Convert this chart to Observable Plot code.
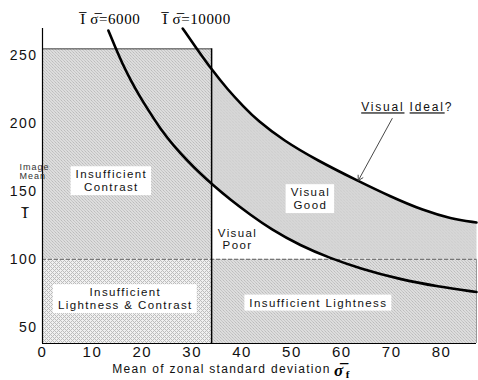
<!DOCTYPE html>
<html><head><meta charset="utf-8">
<script src="https://cdn.jsdelivr.net/npm/d3@7"></script>
<script src="https://cdn.jsdelivr.net/npm/@observablehq/plot@0.6"></script>
<style>
body{margin:0;background:#fff;}
#chart svg{display:block;overflow:visible;}
#chart svg g[aria-label$="tick label"] text{letter-spacing:1.5px;}
#chart svg g[aria-label="x-axis tick label"] text{font-size:15px;}
</style>
</head><body><div id="chart"></div>
<script>
// thresholds
const sigmaContrast = 33.9;   // σ below which contrast is insufficient
const lightnessMin = 100;     // Ī below which lightness is insufficient
const lightnessMax = 255;     // top of the insufficient-contrast box
const sigmaAxisMax = 87;
const meanAxisMin = 38, meanAxisMax = 270;

const xTicks = [0, 10, 20, 30, 40, 50, 60, 70, 80];
const yTicks = [50, 100, 150, 200, 250];

// curve Ī·σ̄ = 6000
const lowSigma = [13.2, 14.6, 16.0, 17.6, 19.6, 21.65, 23.65, 26.3, 29.1, 31.5, 33.9, 37.7, 41.7, 45.7, 51.7, 57.7, 63.7, 71.8, 79.2, 87.0];
const lowMean  = [268.5, 256.0, 244.2, 232.4, 219.2, 207.4, 196.0, 183.5, 172.4, 163.6, 155.5, 143.7, 132.7, 122.4, 110.0, 100.8, 93.2, 85.1, 80.0, 75.9];
// curve Ī·σ̄ = 10000
const highSigma = [28.1, 30.9, 33.9, 37.1, 40.3, 43.1, 48.3, 55.1, 63.1, 69.75, 76.4, 81.8, 87.0];
const highMean  = [270.0, 255.3, 239.8, 225.1, 212.5, 202.2, 187.5, 172.8, 158.0, 146.2, 135.9, 130.0, 127.1];

const curveLabels = ["I\u0305 \u03C3\u0305=6000", "I\u0305 \u03C3\u0305=10000"];
const curveLabelSigma = [13.6, 30.9];

const boxedLabels = ["Insufficient\nContrast", "Visual\nGood", "Insufficient\nLightness & Contrast", "Insufficient Lightness"];
const boxedSigma = [13.8, 53.7, 16.6, 55.3];
const boxedMean  = [158, 144.8, 71.1, 68.2];

const poorLabel = "Visual\nPoor";
const poorSigma = 39.1, poorMean = 114.6;

const idealLabel = "Visual Ideal?";
const idealSigma = 73.1, idealMean = 211.8;
const arrowFrom = [70.1, 203.7], arrowTo = [63.3, 158.0];

const yTitle = "Image\nMean";
const xTitle = "Mean of zonal standard deviation";

// tables built from the arrays
const low = lowSigma.map((s, i) => ({s, m: lowMean[i]}));
const high = highSigma.map((s, i) => ({s, m: highMean[i]}));
const goodPoly = [
  ...high.filter(d => d.s >= sigmaContrast),
  {s: sigmaAxisMax, m: lightnessMin},
  ...low.filter(d => d.s >= sigmaContrast && d.m >= lightnessMin).reverse()
];
const boxes = [
  {x1: 0, x2: sigmaContrast, y1: lightnessMin, y2: lightnessMax, p: "url(#hatchA)"},
  {x1: 0, x2: sigmaContrast, y1: meanAxisMin, y2: lightnessMin, p: "url(#hatchB)"},
  {x1: sigmaContrast, x2: sigmaAxisMax, y1: meanAxisMin, y2: lightnessMin, p: "url(#hatchA)"}
];
const boxed = boxedLabels.map((t, i) => ({t, s: boxedSigma[i], m: boxedMean[i]}));

const sans = "Liberation Sans, Arial, Helvetica, sans-serif";
const serif = "Liberation Serif, Times New Roman, serif";

const svg = Plot.plot({
  width: 478, height: 380,
  marginLeft: 42, marginRight: 2, marginTop: 28, marginBottom: 37,
  style: {fontFamily: sans, fontSize: "14px", color: "#111", background: "white"},
  x: {domain: [0, sigmaAxisMax], ticks: xTicks, tickSize: 0, tickPadding: 3, label: null, tickFormat: d3.format("d")},
  y: {domain: [meanAxisMin, meanAxisMax], ticks: yTicks, tickSize: 0, tickPadding: 5, label: null, tickFormat: d3.format("d")},
  marks: [
    Plot.rect(boxes, {x1: "x1", x2: "x2", y1: "y1", y2: "y2", fill: d => d.p}),
    Plot.line(goodPoly, {x: "s", y: "m", fill: "url(#hatchA)", stroke: "none", curve: "linear"}),
    Plot.ruleY([lightnessMin], {stroke: "#777", strokeWidth: 1.2, strokeDasharray: "4,2"}),
    Plot.ruleY([lightnessMax], {x1: 0, x2: sigmaContrast, stroke: "#444", strokeWidth: 1}),
    Plot.ruleX([sigmaAxisMax], {y1: meanAxisMin, y2: lightnessMin, stroke: "#999", strokeWidth: 1}),
    Plot.ruleX([sigmaContrast], {y1: meanAxisMin, y2: lightnessMax, stroke: "#000", strokeWidth: 1.5}),
    Plot.ruleX([0], {stroke: "#000", strokeWidth: 1.2}),
    Plot.ruleY([meanAxisMin], {stroke: "#000", strokeWidth: 1.2}),
    Plot.line(low, {x: "s", y: "m", stroke: "#000", strokeWidth: 2.6, curve: "basis"}),
    Plot.line(high, {x: "s", y: "m", stroke: "#000", strokeWidth: 2.6, curve: "basis"}),
    Plot.arrow([0], {x1: () => arrowFrom[0], y1: () => arrowFrom[1], x2: () => arrowTo[0], y2: () => arrowTo[1], stroke: "#333", strokeWidth: 0.9, headLength: 9}),
    Plot.text(boxed, {x: "s", y: "m", text: "t", fontSize: 11.5, lineHeight: 1.12, fill: "#111"}),
    Plot.text([poorLabel], {x: () => poorSigma, y: () => poorMean, text: d => d, fontSize: 11.5, lineHeight: 1.05, fill: "#111"}),
    Plot.text([idealLabel], {x: () => idealSigma, y: () => idealMean, text: d => d, fontSize: 12, fill: "#111"}),
    Plot.text(curveLabels, {x: (d, i) => curveLabelSigma[i], frameAnchor: "top", lineAnchor: "bottom", dy: -5, text: d => d, fontFamily: serif, fontSize: 15, fill: "#000"}),
    Plot.text([yTitle], {y: () => 150, frameAnchor: "left", dx: -23, dy: -20, text: d => d, fontSize: 9, lineHeight: 1.0, fill: "#333"}),
    Plot.text(["I\u0305"], {y: () => 150, frameAnchor: "left", dx: -20, dy: 22, text: d => d, fontFamily: serif, fontSize: 15, fill: "#000"}),
    Plot.text([xTitle], {frameAnchor: "bottom", lineAnchor: "bottom", dx: -38, dy: 29, text: d => d, fontSize: 12, fill: "#111"}),
    Plot.text(["\u03C3\u0305"], {frameAnchor: "bottom", lineAnchor: "bottom", dx: 79, dy: 32, text: d => d, fontFamily: serif, fontStyle: "italic", fontWeight: "bold", fontSize: 17, fill: "#000"}),
    Plot.text(["f"], {frameAnchor: "bottom", lineAnchor: "bottom", dx: 88, dy: 34, text: d => d, fontFamily: serif, fontWeight: "bold", fontSize: 11, fill: "#000"})
  ]
});
document.getElementById("chart").append(svg);

// patterns
const root = d3.select(svg);
const defs = root.insert("defs", ":first-child");
const pA = defs.append("pattern").attr("id", "hatchA").attr("patternUnits", "userSpaceOnUse").attr("width", 3).attr("height", 3);
pA.append("rect").attr("width", 3).attr("height", 3).attr("fill", "#dddddd");
[[0,0],[1,1],[2,2]].forEach(([x,y], i) => pA.append("rect").attr("x", x).attr("y", y).attr("width", 1).attr("height", 1).attr("fill", i === 1 ? "#bcbcbc" : "#c6c6c6"));
const pB = defs.append("pattern").attr("id", "hatchB").attr("patternUnits", "userSpaceOnUse").attr("width", 4).attr("height", 4);
pB.append("rect").attr("width", 4).attr("height", 4).attr("fill", "#f0f0f0");
[[0,0],[1,1],[2,2],[3,3],[1,3],[3,1]].forEach(([x,y]) => pB.append("rect").attr("x", x).attr("y", y).attr("width", 1).attr("height", 1).attr("fill", "#bdbdbd"));

// style texts by content
const flat = s => s.replace(/\n/g, "");
const boxedSet = new Set(boxedLabels.map(flat));
const ns = "http://www.w3.org/2000/svg";
root.selectAll('g[aria-label="text"] text').each(function() {
  const c = this.textContent;
  const t = d3.select(this);
  if (boxedSet.has(c) || c === flat(poorLabel)) t.style("letter-spacing", "1.4px");
  else if (c === flat(yTitle)) t.style("letter-spacing", "1px");
  else if (c === xTitle) t.style("letter-spacing", "1.3px");
  else if (curveLabels.includes(c)) t.style("letter-spacing", "0.6px");
  else if (c === idealLabel) {
    t.style("letter-spacing", "1.8px").text(null);
    [["Visual", true], [" ", false], ["Ideal", true], ["?", false]].forEach(([w, u]) => {
      const sp = t.append("tspan").text(w);
      if (u) sp.style("text-decoration", "underline").style("text-decoration-color", "#777").style("text-decoration-thickness", "2px");
    });
  }
});

// white boxes behind the region labels
root.selectAll('g[aria-label="text"] text').each(function() {
  if (!boxedSet.has(this.textContent)) return;
  const bb = this.getBBox();
  const r = document.createElementNS(ns, "rect");
  r.setAttribute("x", bb.x - 5);
  r.setAttribute("y", bb.y - 2);
  r.setAttribute("width", bb.width + 9);
  r.setAttribute("height", bb.height + 4);
  r.setAttribute("fill", "white");
  r.setAttribute("stroke", "none");
  const tr = this.getAttribute("transform");
  if (tr) r.setAttribute("transform", tr);
  this.parentNode.insertBefore(r, this);
});
</script>
</body></html>
